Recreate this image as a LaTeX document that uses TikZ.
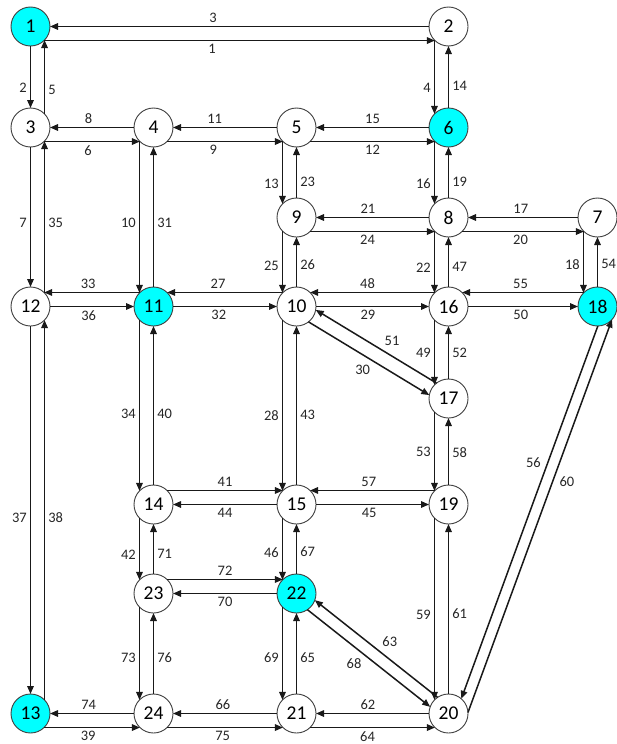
\documentclass[tikz,border=0pt]{standalone}
\usepackage{fontspec}
\setmainfont{Carlito}
\usetikzlibrary{arrows.meta}
\definecolor{aqua}{RGB}{0,255,255}

\begin{document}
\begin{tikzpicture}[x=1pt, y=-1pt, >={Triangle[length=8pt,width=6.5pt]},
	stn/.style={circle, draw=black!75, line width=0.9pt, fill=white, minimum size=39pt, inner sep=0pt, outer sep=0pt, font=\fontsize{19.5}{19.5}\selectfont},
	zone/.style={stn, fill=aqua},
	arr/.style={->, line width=1.5pt, black!90},
	lbl/.style={font=\fontsize{14.5}{14.5}\selectfont, text=black!85, inner sep=3pt, auto=right}]
	\useasboundingbox (0,0) rectangle (616,744);
	\begin{scope}[shift={(0.5,0.5)}]
		\foreach \n/\x/\y in {2/448/26, 3/30/127, 4/153/127, 5/296/127, 7/597/217, 8/448/217, 9/296/217, 10/296/306, 12/30/306, 14/153/504, 15/296/504, 16/448/306, 17/448/398, 19/448/504, 20/448/713, 21/296/713, 23/153/593, 24/153/713}
			\node[stn] (n\n) at (\x,\y) {\n};
		\foreach \n/\x/\y in {1/30/26, 6/448/127, 11/153/306, 13/30/713, 18/597/306, 22/296/593}
			\node[zone] (n\n) at (\x,\y) {\n};
	\end{scope}
	\foreach \a/\b/\u/\v/\t/\p/\q [evaluate=\t as \w using 1-\t] in {
		1/2/-46/-134/0.43/1/3, 3/4/-46/-134/0.46/6/8, 4/5/-46/-134/0.40/9/11, 5/6/-46/-134/0.50/12/15,
		9/8/-46/-134/0.46/24/21, 8/7/-46/-134/0.48/20/17, 13/24/-46/-134/0.46/39/74, 24/21/-46/-134/0.48/75/66,
		21/20/-46/-134/0.46/64/62,
		11/12/134/46/0.54/33/36, 10/11/134/46/0.56/27/32, 16/10/134/46/0.54/48/29, 18/16/134/46/0.52/55/50,
		19/15/134/46/0.53/57/45,
		3/1/44/-44/0.33/5/2, 12/3/44/-44/0.46/35/7, 13/12/44/-44/0.48/38/37,
		2/6/-136/136/0.64/4/14, 4/11/-136/136/0.54/10/31, 5/9/-136/136/0.68/13/23, 6/8/-136/136/0.68/16/19,
		9/10/-136/136/0.56/25/26, 8/16/-136/136/0.59/22/47, 7/18/-136/136/0.54/18/54, 11/14/-136/136/0.55/34/40,
		10/15/-136/136/0.56/28/43, 16/17/-136/136/0.50/49/52, 17/19/-136/136/0.51/53/58, 14/23/-136/136/0.59/42/71,
		15/22/-136/136/0.56/46/67, 19/20/-136/136/0.53/59/61, 23/24/-136/136/0.55/73/76, 22/21/-136/136/0.55/69/65}
	{
		\draw[arr] (n\a.\u) -- (n\b.\v) node[lbl, pos=\t] {\p};
		\draw[arr] (n\b) -- (n\a) node[lbl, pos=\w] {\q};
	}
	\draw[arr] (n14.46) -- (n15.134) node[lbl, auto=left, midway] {41};
	\draw[arr] (n15) -- (n14) node[lbl, auto=left, midway] {44};
	\draw[arr] (n23.46) -- (n22.134) node[lbl, auto=left, midway] {72};
	\draw[arr] (n22) -- (n23) node[lbl, auto=left, midway] {70};
	\draw[arr] (n10.-52) -- (n17.170) node[lbl, pos=0.54] {30};
	\draw[arr] (n17.128) -- (n10.-10) node[lbl, pos=0.46] {51};
	\draw[arr] (n22.-56) -- (n20.160) node[lbl, pos=0.47] {68};
	\draw[arr] (n20.124) -- (n22.-20) node[lbl, pos=0.48] {63};
	\draw[arr] (n18.-89) -- (n20.49) node[lbl, pos=0.39] {56};
	\draw[arr] (n20.3) -- (n18.-42) node[lbl, pos=0.61] {60};
\end{tikzpicture}
\end{document}
